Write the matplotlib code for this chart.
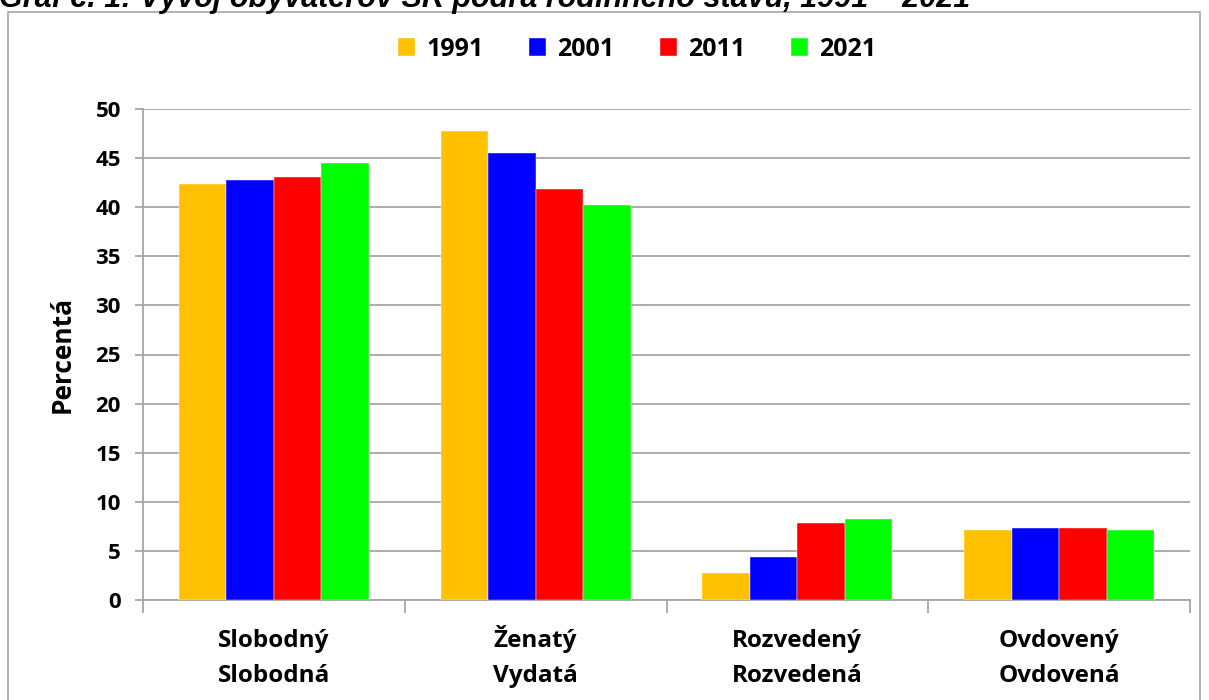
import matplotlib.pyplot as plt
import numpy as np
from matplotlib.patches import Rectangle

# data
categories = [('Slobodný', 'Slobodná'), ('Ženatý', 'Vydatá'),
              ('Rozvedený', 'Rozvedená'), ('Ovdovený', 'Ovdovená')]
years = ['1991', '2001', '2011', '2021']
v1991 = [42.4, 47.8, 2.8, 7.1]
v2001 = [42.8, 45.5, 4.4, 7.3]
v2011 = [43.1, 41.9, 7.8, 7.3]
v2021 = [44.5, 40.2, 8.2, 7.1]
series = [v1991, v2001, v2011, v2021]
colors = ['#FFC000', '#0000FF', '#FF0000', '#00FF00']

plt.rcParams['font.family'] = ['Open Sans', 'DejaVu Sans']
plt.rcParams['font.weight'] = 'bold'

fig = plt.figure(figsize=(12.09, 7), dpi=100)
W, H = 1209, 700
ax = fig.add_axes([143 / W, 1 - 600 / H, (1190 - 143) / W, (600 - 109) / H])

# outer chart frame
fig.patches.append(Rectangle((8 / W, -0.05), (1200 - 8) / W, 1.05 - 12 / H,
                             transform=fig.transFigure, fill=False,
                             edgecolor='#a6a6a6', linewidth=1.2))

# partially cropped caption at the very top
fig.text(-0.001, 1 - 7.5 / H, 'Graf č. 1: Vývoj obyvateľov SR podľa rodinného stavu, 1991 – 2021',
         family='Liberation Sans', fontsize=22, fontweight='bold', style='italic',
         va='baseline', ha='left')

x = np.arange(len(categories))
bw = 0.1815
for i, (vals, col, yr) in enumerate(zip(series, colors, years)):
    ax.bar(x + (i - 1.5) * bw, vals, width=bw, color=col, label=yr,
           edgecolor='white', linewidth=0.3, zorder=3)

ax.set_xlim(-0.5, 3.5)
ax.set_ylim(0, 50)
ax.set_yticks(range(0, 51, 5))
ax.yaxis.grid(True, color='#a6a6a6', linewidth=1.3, zorder=0)
ax.set_axisbelow(True)

ax.set_xticks(np.arange(-0.5, 4, 1))
ax.set_xticklabels([])
ax.tick_params(axis='x', which='major', length=9, color='#a6a6a6', width=1.3)
ax.tick_params(axis='y', length=6, color='#a6a6a6', width=1.3, labelsize=16, pad=10)

# two-line category labels, each line on its own baseline
trans = ax.get_xaxis_transform()
for xi, (line1, line2) in zip(x, categories):
    ax.text(xi, -47 / 491, line1, transform=trans, ha='center', va='baseline',
            fontsize=17.5, fontweight='bold')
    ax.text(xi, -82 / 491, line2, transform=trans, ha='center', va='baseline',
            fontsize=17.5, fontweight='bold')

for side in ['top', 'right']:
    ax.spines[side].set_visible(False)
for side in ['left', 'bottom']:
    ax.spines[side].set_color('#a6a6a6')
    ax.spines[side].set_linewidth(1.3)

ax.set_ylabel('Percentá', fontsize=19, fontweight='bold', labelpad=14)

leg = fig.legend(loc='center', bbox_to_anchor=(0.527, 1 - 49 / H), ncol=4, frameon=False,
                 prop={'weight': 'bold', 'size': 18}, handlelength=0.7, handleheight=0.7,
                 handletextpad=0.45, columnspacing=1.8)

fig.savefig('out.png', dpi=100)
